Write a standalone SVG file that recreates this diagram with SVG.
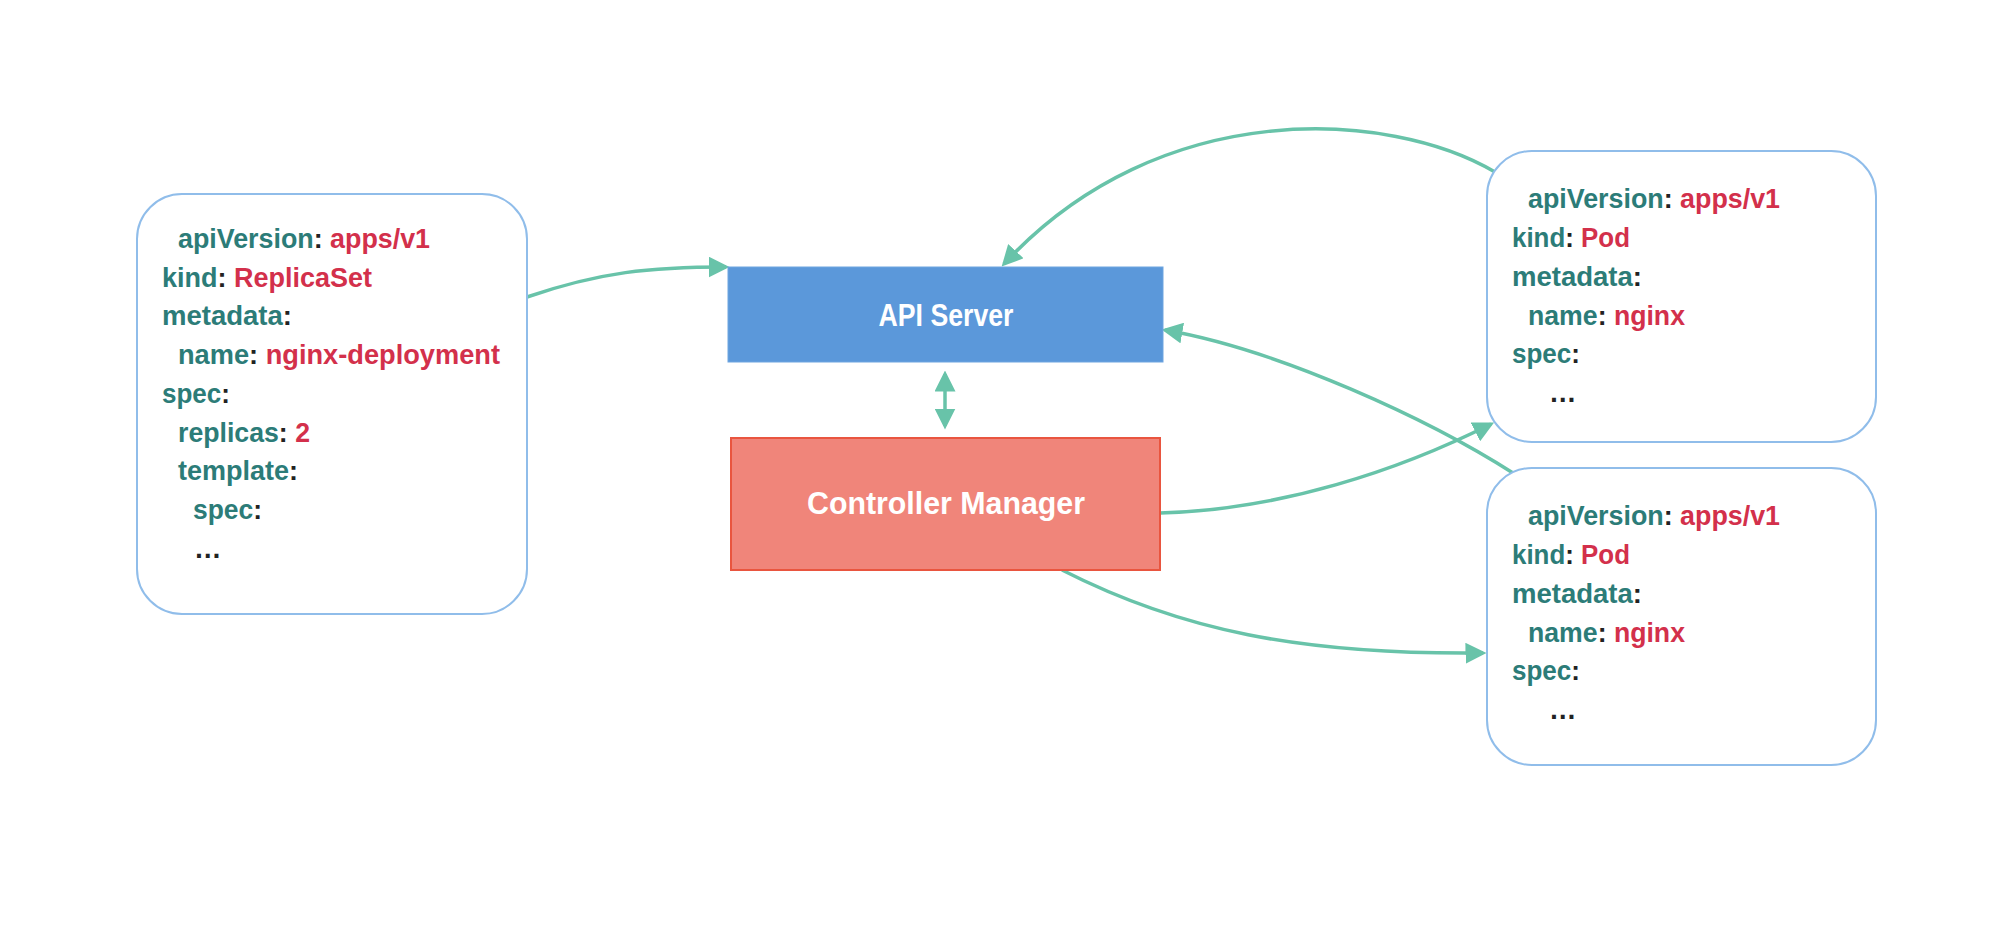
<svg xmlns="http://www.w3.org/2000/svg" width="2000" height="927" viewBox="0 0 2000 927">
<style>
.yaml{fill:#fff;stroke:#90bdea;stroke-width:2}
.t{font-family:"Liberation Sans",Arial,sans-serif;font-weight:bold;font-size:27.5px;fill:#222}
.k{fill:#2c7c78}
.v{fill:#d3304b}
.lbl{font-family:"Liberation Sans",Arial,sans-serif;font-weight:bold;font-size:31px;fill:#fff;text-anchor:middle}
.c{fill:none;stroke:#68c3a9;stroke-width:3.5}
</style>
<defs>
<marker id="ah" markerUnits="userSpaceOnUse" markerWidth="21" markerHeight="21" viewBox="0 0 18 18" refX="15" refY="9" orient="auto">
<path d="M0,0 L18,9 L0,18 z" fill="#68c3a9"/>
</marker>
<marker id="ahs" markerUnits="userSpaceOnUse" markerWidth="21" markerHeight="21" viewBox="0 0 18 18" refX="3" refY="9" orient="auto">
<path d="M18,0 L0,9 L18,18 z" fill="#68c3a9"/>
</marker>
</defs>
<rect width="2000" height="927" fill="#fff"/>
<g id="connectors">
<path class="c" d="M527,297 C600,272 650,267 726,267" marker-end="url(#ah)"/>
<path class="c" d="M1495,172 C1390,110 1160,95 1004,264" marker-end="url(#ah)"/>
<path class="c" d="M1513,473 C1430,420 1280,350 1165,330" marker-end="url(#ah)"/>
<path class="c" d="M1160,513 C1280,510 1400,470 1491,424" marker-end="url(#ah)"/>
<path class="c" d="M1062,570 C1180,630 1300,655 1483,653" marker-end="url(#ah)"/>
<path class="c" d="M945,374 L945,426" marker-start="url(#ahs)" marker-end="url(#ah)"/>
</g>
<g id="replicaset">
<rect class="yaml" x="137" y="194" width="390" height="420" rx="45"/>
<text class="t" x="178" y="248" textLength="252" lengthAdjust="spacingAndGlyphs"><tspan class="k">apiVersion</tspan>: <tspan class="v">apps/v1</tspan></text>
<text class="t" x="162" y="287" textLength="210" lengthAdjust="spacingAndGlyphs"><tspan class="k">kind</tspan>: <tspan class="v">ReplicaSet</tspan></text>
<text class="t" x="162" y="325" textLength="130" lengthAdjust="spacingAndGlyphs"><tspan class="k">metadata</tspan>:</text>
<text class="t" x="178" y="364" textLength="322" lengthAdjust="spacingAndGlyphs"><tspan class="k">name</tspan>: <tspan class="v">nginx-deployment</tspan></text>
<text class="t" x="162" y="403" textLength="68" lengthAdjust="spacingAndGlyphs"><tspan class="k">spec</tspan>:</text>
<text class="t" x="178" y="442" textLength="132" lengthAdjust="spacingAndGlyphs"><tspan class="k">replicas</tspan>: <tspan class="v">2</tspan></text>
<text class="t" x="178" y="480" textLength="120" lengthAdjust="spacingAndGlyphs"><tspan class="k">template</tspan>:</text>
<text class="t" x="193" y="519" textLength="69" lengthAdjust="spacingAndGlyphs"><tspan class="k">spec</tspan>:</text>
<text class="t" x="194" y="558">…</text>
</g>
<g id="api-server">
<rect x="728" y="267" width="435" height="95" fill="#5b98da" stroke="#6fa5e0" stroke-width="1"/>
<text class="lbl" x="946" y="326" textLength="135" lengthAdjust="spacingAndGlyphs">API Server</text>
</g>
<g id="controller-manager">
<rect x="731" y="438" width="429" height="132" fill="#f0857a" stroke="#e9553f" stroke-width="2"/>
<text class="lbl" x="946" y="514" textLength="278" lengthAdjust="spacingAndGlyphs">Controller Manager</text>
</g>
<g id="pod-1">
<rect class="yaml" x="1487" y="151" width="389" height="291" rx="45"/>
<text class="t" x="1528" y="208" textLength="252" lengthAdjust="spacingAndGlyphs"><tspan class="k">apiVersion</tspan>: <tspan class="v">apps/v1</tspan></text>
<text class="t" x="1512" y="247" textLength="118" lengthAdjust="spacingAndGlyphs"><tspan class="k">kind</tspan>: <tspan class="v">Pod</tspan></text>
<text class="t" x="1512" y="286" textLength="130" lengthAdjust="spacingAndGlyphs"><tspan class="k">metadata</tspan>:</text>
<text class="t" x="1528" y="325" textLength="157" lengthAdjust="spacingAndGlyphs"><tspan class="k">name</tspan>: <tspan class="v">nginx</tspan></text>
<text class="t" x="1512" y="363" textLength="68" lengthAdjust="spacingAndGlyphs"><tspan class="k">spec</tspan>:</text>
<text class="t" x="1549" y="402">…</text>
</g>
<g id="pod-2">
<rect class="yaml" x="1487" y="468" width="389" height="297" rx="45"/>
<text class="t" x="1528" y="525" textLength="252" lengthAdjust="spacingAndGlyphs"><tspan class="k">apiVersion</tspan>: <tspan class="v">apps/v1</tspan></text>
<text class="t" x="1512" y="564" textLength="118" lengthAdjust="spacingAndGlyphs"><tspan class="k">kind</tspan>: <tspan class="v">Pod</tspan></text>
<text class="t" x="1512" y="603" textLength="130" lengthAdjust="spacingAndGlyphs"><tspan class="k">metadata</tspan>:</text>
<text class="t" x="1528" y="642" textLength="157" lengthAdjust="spacingAndGlyphs"><tspan class="k">name</tspan>: <tspan class="v">nginx</tspan></text>
<text class="t" x="1512" y="680" textLength="68" lengthAdjust="spacingAndGlyphs"><tspan class="k">spec</tspan>:</text>
<text class="t" x="1549" y="719">…</text>
</g>
</svg>
